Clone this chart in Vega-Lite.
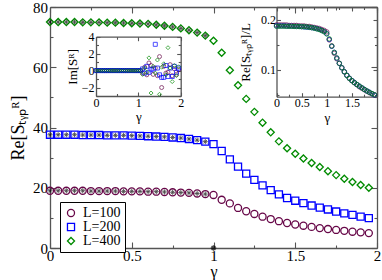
{
 "$schema": "https://vega.github.io/schema/vega-lite/v6.json",
 "width": 327, "height": 241,
 "autosize": {"type": "none"},
 "padding": {"left": 50, "top": 7, "right": 5, "bottom": 32},
 "background": "white",
 "config": {
  "view": {"stroke": null},
  "axis": {"labelFont": "Liberation Serif", "titleFont": "Liberation Serif", "labelColor": "black", "titleColor": "black", "titleFontWeight": "normal", "domainColor": "#555", "tickColor": "#555", "domainWidth": 1.3, "tickWidth": 1.1, "grid": false, "labelFlush": false, "labelOverlap": false, "labelFontSize": 15, "titleFontSize": 17, "format": "~r"}
 },
 "datasets": {
  "star": [{"g": 1, "v": 0}],
  "pts": [
   {"g":0,"L":"L=100","v":19.0,"r":0.190,"im":0},
   {"g":0.05,"L":"L=100","v":19.0,"r":0.190,"im":0},
   {"g":0.1,"L":"L=100","v":19.0,"r":0.190,"im":0},
   {"g":0.15,"L":"L=100","v":19.0,"r":0.190,"im":0},
   {"g":0.2,"L":"L=100","v":19.0,"r":0.190,"im":0},
   {"g":0.25,"L":"L=100","v":18.9,"r":0.189,"im":0},
   {"g":0.3,"L":"L=100","v":18.9,"r":0.189,"im":0},
   {"g":0.35,"L":"L=100","v":18.9,"r":0.189,"im":0},
   {"g":0.4,"L":"L=100","v":18.9,"r":0.189,"im":0},
   {"g":0.45,"L":"L=100","v":18.8,"r":0.188,"im":0},
   {"g":0.5,"L":"L=100","v":18.8,"r":0.188,"im":0},
   {"g":0.55,"L":"L=100","v":18.8,"r":0.188,"im":0},
   {"g":0.6,"L":"L=100","v":18.7,"r":0.187,"im":0},
   {"g":0.65,"L":"L=100","v":18.7,"r":0.187,"im":0},
   {"g":0.7,"L":"L=100","v":18.6,"r":0.186,"im":0},
   {"g":0.75,"L":"L=100","v":18.5,"r":0.185,"im":0},
   {"g":0.8,"L":"L=100","v":18.4,"r":0.184,"im":0},
   {"g":0.85,"L":"L=100","v":18.3,"r":0.183,"im":0},
   {"g":0.9,"L":"L=100","v":18.1,"r":0.181,"im":0},
   {"g":0.95,"L":"L=100","v":17.9,"r":0.179,"im":0},
   {"g":1.0,"L":"L=100","v":17.6,"r":0.176,"im":0},
   {"g":1.05,"L":"L=100","v":16.0,"r":0.160,"im":0},
   {"g":1.1,"L":"L=100","v":14.8,"r":0.148,"im":-0.3},
   {"g":1.15,"L":"L=100","v":13.3,"r":0.133,"im":0.4},
   {"g":1.2,"L":"L=100","v":12.2,"r":0.122,"im":-0.5},
   {"g":1.25,"L":"L=100","v":11.3,"r":0.113,"im":0.9},
   {"g":1.3,"L":"L=100","v":10.4,"r":0.104,"im":0.6},
   {"g":1.35,"L":"L=100","v":9.6,"r":0.096,"im":-0.45},
   {"g":1.4,"L":"L=100","v":8.9,"r":0.089,"im":0.3},
   {"g":1.45,"L":"L=100","v":8.3,"r":0.083,"im":-0.6},
   {"g":1.5,"L":"L=100","v":7.8,"r":0.078,"im":1.65},
   {"g":1.55,"L":"L=100","v":7.4,"r":0.074,"im":-2.0},
   {"g":1.6,"L":"L=100","v":7.0,"r":0.070,"im":0.5},
   {"g":1.65,"L":"L=100","v":6.6,"r":0.066,"im":-0.3},
   {"g":1.7,"L":"L=100","v":6.3,"r":0.063,"im":-0.2},
   {"g":1.75,"L":"L=100","v":6.0,"r":0.060,"im":0.7},
   {"g":1.8,"L":"L=100","v":5.7,"r":0.057,"im":-0.6},
   {"g":1.85,"L":"L=100","v":5.4,"r":0.054,"im":0.2},
   {"g":1.9,"L":"L=100","v":5.2,"r":0.052,"im":-0.45},
   {"g":1.95,"L":"L=100","v":4.95,"r":0.0495,"im":0.1},
   {"g":0,"L":"L=200","v":37.6,"r":0.188,"im":0},
   {"g":0.05,"L":"L=200","v":37.6,"r":0.188,"im":0},
   {"g":0.1,"L":"L=200","v":37.6,"r":0.188,"im":0},
   {"g":0.15,"L":"L=200","v":37.6,"r":0.188,"im":0},
   {"g":0.2,"L":"L=200","v":37.5,"r":0.1875,"im":0},
   {"g":0.25,"L":"L=200","v":37.5,"r":0.1875,"im":0},
   {"g":0.3,"L":"L=200","v":37.5,"r":0.1875,"im":0},
   {"g":0.35,"L":"L=200","v":37.4,"r":0.187,"im":0},
   {"g":0.4,"L":"L=200","v":37.4,"r":0.187,"im":0},
   {"g":0.45,"L":"L=200","v":37.4,"r":0.187,"im":0},
   {"g":0.5,"L":"L=200","v":37.3,"r":0.1865,"im":0},
   {"g":0.55,"L":"L=200","v":37.2,"r":0.186,"im":0},
   {"g":0.6,"L":"L=200","v":37.1,"r":0.1855,"im":0},
   {"g":0.65,"L":"L=200","v":37.0,"r":0.185,"im":0},
   {"g":0.7,"L":"L=200","v":36.9,"r":0.1845,"im":0},
   {"g":0.75,"L":"L=200","v":36.7,"r":0.1835,"im":0},
   {"g":0.8,"L":"L=200","v":36.5,"r":0.1825,"im":0},
   {"g":0.85,"L":"L=200","v":36.2,"r":0.181,"im":0},
   {"g":0.9,"L":"L=200","v":35.8,"r":0.179,"im":0},
   {"g":0.95,"L":"L=200","v":35.3,"r":0.1765,"im":0},
   {"g":1.0,"L":"L=200","v":34.5,"r":0.1725,"im":0},
   {"g":1.05,"L":"L=200","v":32.2,"r":0.161,"im":0},
   {"g":1.1,"L":"L=200","v":29.4,"r":0.147,"im":0.2},
   {"g":1.15,"L":"L=200","v":27.0,"r":0.135,"im":-0.3},
   {"g":1.2,"L":"L=200","v":24.7,"r":0.1235,"im":0.5},
   {"g":1.25,"L":"L=200","v":22.6,"r":0.113,"im":-0.2},
   {"g":1.3,"L":"L=200","v":20.8,"r":0.104,"im":0.1},
   {"g":1.35,"L":"L=200","v":19.2,"r":0.096,"im":0.2},
   {"g":1.4,"L":"L=200","v":17.8,"r":0.089,"im":3.1},
   {"g":1.45,"L":"L=200","v":16.6,"r":0.083,"im":0.3},
   {"g":1.5,"L":"L=200","v":15.7,"r":0.0785,"im":-0.5},
   {"g":1.55,"L":"L=200","v":14.9,"r":0.0745,"im":-0.8},
   {"g":1.6,"L":"L=200","v":14.1,"r":0.0705,"im":-0.8},
   {"g":1.65,"L":"L=200","v":13.4,"r":0.067,"im":0.6},
   {"g":1.7,"L":"L=200","v":12.8,"r":0.064,"im":-0.7},
   {"g":1.75,"L":"L=200","v":12.1,"r":0.0605,"im":0.3},
   {"g":1.8,"L":"L=200","v":11.5,"r":0.0575,"im":-0.7},
   {"g":1.85,"L":"L=200","v":11.0,"r":0.055,"im":0.5},
   {"g":1.9,"L":"L=200","v":10.4,"r":0.052,"im":-0.2},
   {"g":1.95,"L":"L=200","v":9.9,"r":0.0495,"im":0.3},
   {"g":0,"L":"L=400","v":75.0,"r":0.1875,"im":0},
   {"g":0.05,"L":"L=400","v":75.0,"r":0.1875,"im":0},
   {"g":0.1,"L":"L=400","v":75.0,"r":0.1875,"im":0},
   {"g":0.15,"L":"L=400","v":75.0,"r":0.1875,"im":0},
   {"g":0.2,"L":"L=400","v":74.9,"r":0.18725,"im":0},
   {"g":0.25,"L":"L=400","v":74.9,"r":0.18725,"im":0},
   {"g":0.3,"L":"L=400","v":74.9,"r":0.18725,"im":0},
   {"g":0.35,"L":"L=400","v":74.8,"r":0.187,"im":0},
   {"g":0.4,"L":"L=400","v":74.8,"r":0.187,"im":0},
   {"g":0.45,"L":"L=400","v":74.7,"r":0.18675,"im":0},
   {"g":0.5,"L":"L=400","v":74.6,"r":0.1865,"im":0},
   {"g":0.55,"L":"L=400","v":74.5,"r":0.18625,"im":0},
   {"g":0.6,"L":"L=400","v":74.4,"r":0.186,"im":0},
   {"g":0.65,"L":"L=400","v":74.1,"r":0.18525,"im":0},
   {"g":0.7,"L":"L=400","v":73.8,"r":0.1845,"im":0},
   {"g":0.75,"L":"L=400","v":73.4,"r":0.1835,"im":0},
   {"g":0.8,"L":"L=400","v":72.9,"r":0.18225,"im":0},
   {"g":0.85,"L":"L=400","v":72.3,"r":0.18075,"im":0},
   {"g":0.9,"L":"L=400","v":71.5,"r":0.17875,"im":0},
   {"g":0.95,"L":"L=400","v":70.5,"r":0.17625,"im":0},
   {"g":1.0,"L":"L=400","v":68.8,"r":0.172,"im":0},
   {"g":1.05,"L":"L=400","v":64.8,"r":0.162,"im":0},
   {"g":1.1,"L":"L=400","v":59.0,"r":0.1475,"im":-0.45},
   {"g":1.15,"L":"L=400","v":54.0,"r":0.135,"im":0.3},
   {"g":1.2,"L":"L=400","v":49.5,"r":0.12375,"im":-0.2},
   {"g":1.25,"L":"L=400","v":45.2,"r":0.113,"im":1.5},
   {"g":1.3,"L":"L=400","v":41.6,"r":0.104,"im":-2.65},
   {"g":1.35,"L":"L=400","v":38.4,"r":0.096,"im":0.5},
   {"g":1.4,"L":"L=400","v":35.4,"r":0.0885,"im":-0.3},
   {"g":1.45,"L":"L=400","v":33.1,"r":0.08275,"im":1.25},
   {"g":1.5,"L":"L=400","v":31.3,"r":0.07825,"im":-2.8},
   {"g":1.55,"L":"L=400","v":29.7,"r":0.07425,"im":0.4},
   {"g":1.6,"L":"L=400","v":28.2,"r":0.0705,"im":0.8},
   {"g":1.65,"L":"L=400","v":26.9,"r":0.06725,"im":-0.5},
   {"g":1.7,"L":"L=400","v":25.5,"r":0.06375,"im":2.7},
   {"g":1.75,"L":"L=400","v":24.2,"r":0.0605,"im":0.3},
   {"g":1.8,"L":"L=400","v":23.0,"r":0.0575,"im":-1.3},
   {"g":1.85,"L":"L=400","v":21.9,"r":0.05475,"im":0.6},
   {"g":1.9,"L":"L=400","v":20.9,"r":0.05225,"im":-0.6},
   {"g":1.95,"L":"L=400","v":20.0,"r":0.05,"im":0.45}
  ]
 },
 "layer": [
  {
   "layer": [
    {
     "data": {"name": "pts"},
     "mark": {"type": "point", "filled": false, "size": 50, "strokeWidth": 1.3, "opacity": 1},
     "encoding": {
      "x": {"field": "g", "type": "quantitative", "scale": {"domain": [0, 2], "nice": false, "zero": false},
            "axis": {"orient": "bottom", "values": [0, 0.5, 1, 1.5, 2], "tickSize": -6, "labelPadding": 6.5, "title": "γ", "titlePadding": 0, "titleFontSize": 16}},
      "y": {"field": "v", "type": "quantitative", "scale": {"domain": [0, 80], "nice": false, "zero": false},
            "axis": {"orient": "left", "values": [0, 20, 40, 60, 80], "tickSize": -6, "labelPadding": 8.5, "title": "Re[Sₜᵧₚᴿ]", "titlePadding": 5, "titleFontSize": 18}},
      "color": {"field": "L", "type": "nominal", "scale": {"domain": ["L=100", "L=200", "L=400"], "range": ["#670748", "#0000ff", "#008b00"]},
                "legend": {"orient": "none", "legendX": 10, "legendY": 195, "title": null, "strokeColor": "black", "fillColor": "white", "padding": 4, "labelFont": "Liberation Serif", "labelFontSize": 14, "labelColor": "black", "symbolSize": 50, "symbolStrokeWidth": 1.3, "rowPadding": 0, "labelOffset": 5}},
      "shape": {"field": "L", "type": "nominal", "scale": {"domain": ["L=100", "L=200", "L=400"], "range": ["circle", "square", "diamond"]},
                "legend": {"orient": "none", "legendX": 10, "legendY": 195, "title": null, "strokeColor": "black", "fillColor": "white", "padding": 4, "labelFont": "Liberation Serif", "labelFontSize": 14, "labelColor": "black", "symbolSize": 50, "symbolStrokeWidth": 1.3, "rowPadding": 0, "labelOffset": 5}}
     }
    },
    {
     "data": {"name": "pts"},
     "transform": [{"filter": "datum.g < 0.97"}],
     "mark": {"type": "point", "shape": "M-1,0L1,0M0,-1L0,1M-0.7,-0.7L0.7,0.7M-0.7,0.7L0.7,-0.7", "size": 25, "color": "black", "strokeWidth": 0.9, "filled": false},
     "encoding": {
      "x": {"field": "g", "type": "quantitative", "axis": {"orient": "bottom", "values": [0.25, 0.75, 1.25, 1.75], "tickSize": -3, "labels": false, "domain": false, "title": null}},
      "y": {"field": "v", "type": "quantitative", "axis": {"orient": "left", "values": [10, 30, 50, 70], "tickSize": -3, "labels": false, "domain": false, "title": null}}
     }
    },
    {
     "data": {"name": "star"},
     "mark": {"type": "point", "shape": "M-1,0L1,0M0,-1L0,1M-0.7,-0.7L0.7,0.7M-0.7,0.7L0.7,-0.7", "size": 30, "color": "black", "strokeWidth": 1.4, "filled": false},
     "encoding": {
      "x": {"field": "g", "type": "quantitative", "axis": {"orient": "top", "values": [0, 0.5, 1, 1.5, 2], "tickSize": -6, "labels": false, "title": null}},
      "y": {"field": "v", "type": "quantitative", "axis": {"orient": "right", "values": [0, 20, 40, 60, 80], "tickSize": -6, "labels": false, "title": null}}
     }
    },
    {
     "data": {"name": "star"},
     "mark": {"type": "point", "opacity": 0},
     "encoding": {
      "x": {"field": "g", "type": "quantitative", "axis": {"orient": "top", "values": [0.25, 0.75, 1.25, 1.75], "tickSize": -3, "labels": false, "domain": false, "title": null}},
      "y": {"field": "v", "type": "quantitative", "axis": {"orient": "right", "values": [10, 30, 50, 70], "tickSize": -3, "labels": false, "domain": false, "title": null}}
     }
    }
   ],
   "resolve": {"axis": {"x": "independent", "y": "independent"}}
  },
  {
   "layer": [
    {
     "data": {"name": "pts"},
     "mark": {"type": "point", "filled": false, "size": 16, "strokeWidth": 1},
     "encoding": {
      "x": {"field": "g", "type": "quantitative", "scale": {"domain": [0, 2], "range": [46, 130.7], "nice": false, "zero": false},
            "axis": {"orient": "bottom", "offset": -152, "values": [0, 1, 2], "tickSize": -4, "labelPadding": 5, "labelFontSize": 12, "title": "γ", "titleFontSize": 13, "titlePadding": 2}},
      "y": {"field": "im", "type": "quantitative", "scale": {"domain": [-3, 4], "range": [89, 29.7], "nice": false, "zero": false},
            "axis": {"orient": "left", "offset": -46, "values": [-2, 0, 2, 4], "tickSize": -4, "labelPadding": 6, "labelFontSize": 12, "title": "Im[Sᴿ]", "titleFontSize": 13, "titlePadding": 2}},
      "color": {"field": "L", "type": "nominal", "legend": null},
      "shape": {"field": "L", "type": "nominal", "legend": null}
     }
    },
    {
     "data": {"name": "star"},
     "mark": {"type": "point", "opacity": 0},
     "encoding": {
      "x": {"field": "g", "type": "quantitative", "axis": {"orient": "bottom", "offset": -152, "values": [0.5, 1.5], "tickSize": -2.5, "labels": false, "domain": false, "title": null}},
      "y": {"field": "v", "type": "quantitative", "axis": {"orient": "left", "offset": -46, "values": [-3, -1, 1, 3], "tickSize": -2.5, "labels": false, "domain": false, "title": null}}
     }
    },
    {
     "data": {"name": "star"},
     "mark": {"type": "point", "opacity": 0},
     "encoding": {
      "x": {"field": "g", "type": "quantitative", "axis": {"orient": "top", "offset": -29.7, "values": [0, 1, 2], "tickSize": -4, "labels": false, "title": null}},
      "y": {"field": "v", "type": "quantitative", "axis": {"orient": "right", "offset": -196.3, "values": [-2, 0, 2, 4], "tickSize": -4, "labels": false, "title": null}}
     }
    },
    {
     "data": {"name": "star"},
     "mark": {"type": "point", "opacity": 0},
     "encoding": {
      "x": {"field": "g", "type": "quantitative", "axis": {"orient": "top", "offset": -29.7, "values": [0.5, 1.5], "tickSize": -2.5, "labels": false, "domain": false, "title": null}},
      "y": {"field": "v", "type": "quantitative", "axis": {"orient": "right", "offset": -196.3, "values": [-3, -1, 1, 3], "tickSize": -2.5, "labels": false, "domain": false, "title": null}}
     }
    }
   ],
   "resolve": {"axis": {"x": "independent", "y": "independent"}}
  },
  {
   "layer": [
    {
     "data": {"name": "pts"},
     "mark": {"type": "point", "shape": "circle", "filled": false, "size": 20, "strokeWidth": 1},
     "encoding": {
      "x": {"field": "g", "type": "quantitative", "scale": {"domain": [0, 2], "range": [226.5, 327], "nice": false, "zero": false},
            "axis": {"orient": "bottom", "offset": -151.3, "values": [0, 0.5, 1, 1.5], "tickSize": -4, "labelPadding": 5, "labelFontSize": 12, "title": "γ", "titleFontSize": 13, "titlePadding": 3}},
      "y": {"field": "r", "type": "quantitative", "scale": {"domain": [0.046, 0.226], "range": [89.7, 0], "nice": false, "zero": false},
            "axis": {"orient": "left", "offset": -226.5, "values": [0.1, 0.2], "format": ".1f", "tickSize": -4, "labelPadding": 5, "labelFontSize": 12, "title": "Re[Sₜᵧₚᴿ]/L", "titleFontSize": 13, "titlePadding": 8}},
      "color": {"field": "L", "type": "nominal", "legend": null}
     }
    },
    {
     "data": {"name": "star"},
     "mark": {"type": "point", "opacity": 0},
     "encoding": {
      "x": {"field": "g", "type": "quantitative", "axis": {"orient": "bottom", "offset": -151.3, "values": [0.25, 0.75, 1.25, 1.75], "tickSize": -2.5, "labels": false, "domain": false, "title": null}},
      "y": {"field": "v", "type": "quantitative", "axis": {"orient": "left", "offset": -226.5, "values": [0.05, 0.15], "tickSize": -2.5, "labels": false, "domain": false, "title": null}}
     }
    },
    {
     "data": {"name": "star"},
     "mark": {"type": "point", "opacity": 0},
     "encoding": {
      "x": {"field": "g", "type": "quantitative", "axis": {"orient": "top", "offset": 0, "values": [0, 0.5, 1, 1.5, 2], "tickSize": -4, "labels": false, "title": null}},
      "y": {"field": "v", "type": "quantitative", "axis": {"orient": "right", "offset": 0, "values": [0.1, 0.2], "tickSize": -4, "labels": false, "title": null}}
     }
    },
    {
     "data": {"name": "star"},
     "mark": {"type": "point", "opacity": 0},
     "encoding": {
      "x": {"field": "g", "type": "quantitative", "axis": {"orient": "top", "offset": 0, "values": [0.25, 0.75, 1.25, 1.75], "tickSize": -2.5, "labels": false, "domain": false, "title": null}},
      "y": {"field": "v", "type": "quantitative", "axis": {"orient": "right", "offset": 0, "values": [0.05, 0.15], "tickSize": -2.5, "labels": false, "domain": false, "title": null}}
     }
    }
   ],
   "resolve": {"axis": {"x": "independent", "y": "independent"}}
  }
 ],
 "resolve": {"scale": {"x": "independent", "y": "independent"}}
}
